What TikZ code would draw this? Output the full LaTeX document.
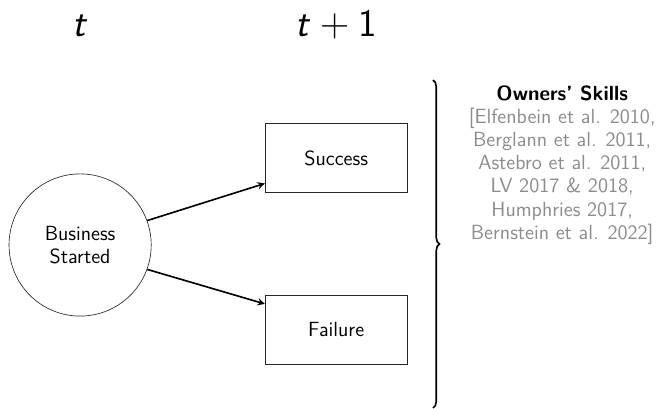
\documentclass[tikz,border=0pt]{standalone}
\usepackage{tikz}
\usetikzlibrary{positioning, arrows, shapes, decorations.pathreplacing}

\begin{document}
\begin{tikzpicture}[
    >=stealth,
    thick,
    font=\sffamily\fontsize{12.6}{14.2}\selectfont,
    startnode/.style={circle, draw=black!85, thin, minimum size=3.07cm, align=center, inner sep=0pt},
    outcome/.style={rectangle, draw=black!85, thin, minimum width=3.07cm, minimum height=1.49cm},
    period/.style={anchor=base, font=\sffamily\fontsize{24}{28}\selectfont},
    refs/.style={align=center, text=black!45, inner sep=0pt, anchor=north}
  ]

  \useasboundingbox (0,0) rectangle (14.23,-8.83);

  % --- TIME LABELS ---
  \node[period] (tnow) at (1.73,-0.78) {\textit{t}};
  \node[period] (tnext) at (7.26,-0.78) {\textit{t}${}+{}$1};

  % --- NODES ---
  \node[startnode] (start) at (1.73,-5.29) {Business\\Started};
  \node[outcome] (succ) at (7.26,-3.41) {Success};
  \node[outcome, below=2.2cm of succ] (fail) {Failure};

  % --- ARROWS ---
  \draw[->, line width=1pt] (start.20) -- ([yshift=0.2cm]succ.south west);
  \draw[->, line width=1pt] (start.-20) -- ([yshift=-0.2cm]fail.north west);

  % --- BRACE ---
  \coordinate (btop) at (9.35,-1.73);
  \coordinate (bbot) at (9.35,-8.81);
  \draw[line width=1pt, decorate, decoration={brace, amplitude=4pt}] (btop) -- (bbot);

  \node[refs] (skills) at (12.14,-1.84) {%
    \textcolor{black}{\textbf{Owners' Skills}}\\
    {[}Elfenbein et al. 2010,\\
    Berglann et al. 2011,\\
    Astebro et al. 2011,\\
    LV 2017 \& 2018,\\
    Humphries 2017,\\
    Bernstein et al. 2022]};

\end{tikzpicture}
\end{document}
